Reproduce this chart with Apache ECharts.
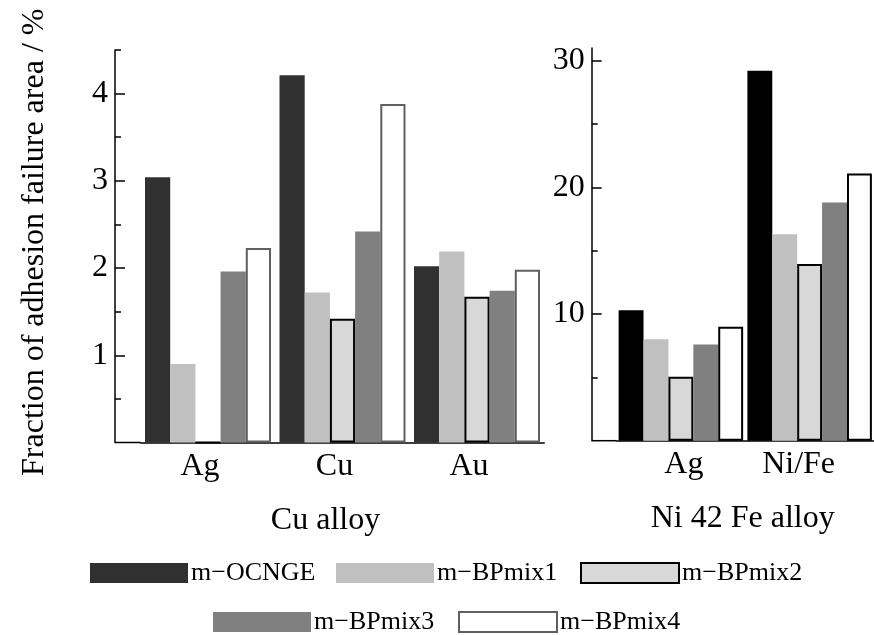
<!DOCTYPE html>
<html>
<head>
<meta charset="utf-8">
<script src="https://cdn.jsdelivr.net/npm/echarts@6/dist/echarts.min.js"></script>
<style>
  html, body { margin: 0; padding: 0; background: #fff; }
  #chart { width: 874px; height: 635px; }
</style>
</head>
<body>
<div id="chart"></div>
<script>
// 数据
const cuCategories = ['Ag', 'Cu', 'Au'];
const niCategories = ['Ag', 'Ni/Fe'];
const seriesNames = ['m\u2212OCNGE', 'm\u2212BPmix1', 'm\u2212BPmix2', 'm\u2212BPmix3', 'm\u2212BPmix4'];

const cuOCNGE = [3.04, 4.21, 2.02];
const cuMix1 = [0.90, 1.72, 2.19];
const cuMix2 = [0, 1.42, 1.67];
const cuMix3 = [1.96, 2.42, 1.74];
const cuMix4 = [2.23, 3.88, 1.98];

const niOCNGE = [10.3, 29.2];
const niMix1 = [8.0, 16.3];
const niMix2 = [5.05, 13.95];
const niMix3 = [7.6, 18.8];
const niMix4 = [9.0, 21.1];

const cuTicks = [1, 2, 3, 4];
const cuMinorTicks = [0.5, 1.5, 2.5, 3.5, 4.5];
const niTicks = [10, 20, 30];
const niMinorTicks = [5, 15, 25];

const FONT = '"Liberation Serif", "Times New Roman", serif';

// 布局
const g1 = { left: 140.75, top: 50, width: 403.5, height: 392.5, axisX: 115 };
const g2 = { left: 616.5, top: 48, width: 262, height: 392.7, axisX: 591.7 };

// 样式 (左图 / 右图)
const styles1 = [
  { color: '#303030' },
  { color: '#c0c0c0' },
  { color: '#d8d8d8', borderColor: '#000', borderWidth: 2 },
  { color: '#808080' },
  { color: '#ffffff', borderColor: '#606060', borderWidth: 2 }
];
const styles2 = [
  { color: '#000000' },
  { color: '#c0c0c0' },
  { color: '#d8d8d8', borderColor: '#000', borderWidth: 2 },
  { color: '#808080' },
  { color: '#ffffff', borderColor: '#000', borderWidth: 2 }
];

function valueAxes(grid, max, ticks, minor, extra) {
  let offset = grid.left - grid.axisX;
  let main = Object.assign({
    type: 'value', gridIndex: extra.gridIndex, position: 'left', offset: offset,
    min: 0, max: max,
    axisLine: { show: true, lineStyle: { color: '#000', width: 1.5 } },
    axisTick: { show: true, inside: true, length: 10, customValues: ticks, lineStyle: { color: '#000', width: 1.5 } },
    axisLabel: { customValues: ticks, fontFamily: FONT, fontSize: 32, color: '#000', margin: 7 },
    splitLine: { show: false }
  }, extra.main || {});
  let sub = {
    type: 'value', gridIndex: extra.gridIndex, position: 'left', offset: offset,
    min: 0, max: max,
    axisLine: { show: false },
    axisTick: { show: true, inside: true, length: 6, customValues: minor, lineStyle: { color: '#000', width: 1.5 } },
    axisLabel: { show: false },
    splitLine: { show: false }
  };
  return [main, sub];
}

function categoryAxis(grid, cats, name, gridIndex, labelExtra, namePad) {
  return {
    type: 'category', gridIndex: gridIndex, data: cats,
    axisLine: { show: true, lineStyle: { color: '#000', width: 1.5 } },
    axisTick: { show: false },
    axisLabel: Object.assign({ interval: 0, fontFamily: FONT, fontSize: 32, color: '#000', margin: 8 }, labelExtra),
    name: name, nameLocation: 'middle', nameGap: 62,
    nameTextStyle: { fontFamily: FONT, fontSize: 32, color: '#000', padding: namePad }
  };
}

function buildSeries(lists, styles, axisIdx, barWidth) {
  return lists.map((d, i) => ({
    name: seriesNames[i],
    type: 'bar',
    xAxisIndex: axisIdx, yAxisIndex: axisIdx * 2,
    barWidth: barWidth, barGap: '0%',
    itemStyle: styles[i],
    emphasis: { disabled: true },
    data: d
  }));
}

let chart = echarts.init(document.getElementById('chart'), null, { renderer: 'canvas' });

let legendPos = [
  { left: 90, top: 560 }, { left: 336, top: 560 }, { left: 580, top: 560 },
  { left: 213, top: 609 }, { left: 458, top: 609 }
];

let option = {
  animation: false,
  backgroundColor: '#fff',
  grid: [
    { left: g1.left, top: g1.top, width: g1.width, height: g1.height },
    { left: g2.left, top: g2.top, width: g2.width, height: g2.height }
  ],
  xAxis: [
    categoryAxis(g1, cuCategories, 'Cu alloy', 0, { padding: [0, 16, 0, 0] }, [0, 34, 0, 0]),
    categoryAxis(g2, niCategories, 'Ni 42 Fe alloy', 1, {
      formatter: v => v === 'Ni/Fe' ? '{n|' + v + '}' : '{a|' + v + '}',
      rich: {
        n: { fontFamily: FONT, fontSize: 32, color: '#000', padding: [0, 22, 0, 0] },
        a: { fontFamily: FONT, fontSize: 32, color: '#000', padding: [0, 0, 0, 6] }
      }
    }, [0, 5, 0, 0])
  ],
  yAxis: [].concat(
    valueAxes(g1, 4.5, cuTicks, cuMinorTicks, {
      gridIndex: 0,
      main: {
        name: 'Fraction of adhesion failure area / %', nameLocation: 'middle', nameRotate: 90, nameGap: 64,
        nameTextStyle: { fontFamily: FONT, fontSize: 32, color: '#000', padding: [0, 0, 0, 8] }
      }
    }),
    valueAxes(g2, 31, niTicks, niMinorTicks, { gridIndex: 1 })
  ),
  legend: legendPos.map((p, i) => ({
    data: [seriesNames[i]],
    left: p.left, top: p.top, padding: 0,
    icon: 'rect', itemWidth: 98, itemHeight: 20,
    selectedMode: false,
    textStyle: { fontFamily: FONT, fontSize: 26, color: '#000', padding: [0, 0, 0, -2] }
  })),
  // 补齐y轴到第一组柱子之间的基线
  graphic: [
    { type: 'line', shape: { x1: g1.axisX, y1: g1.top + g1.height, x2: g1.left, y2: g1.top + g1.height },
      style: { stroke: '#000', lineWidth: 1.5 } },
    { type: 'line', shape: { x1: g2.axisX, y1: g2.top + g2.height, x2: g2.left, y2: g2.top + g2.height },
      style: { stroke: '#000', lineWidth: 1.5 } }
  ],
  series: [].concat(
    buildSeries([cuOCNGE, cuMix1, cuMix2, cuMix3, cuMix4], styles1, 0, 25.2),
    buildSeries([niOCNGE, niMix1, niMix2, niMix3, niMix4], styles2, 1, 24.9)
  )
};
chart.setOption(option);
</script>
</body>
</html>
